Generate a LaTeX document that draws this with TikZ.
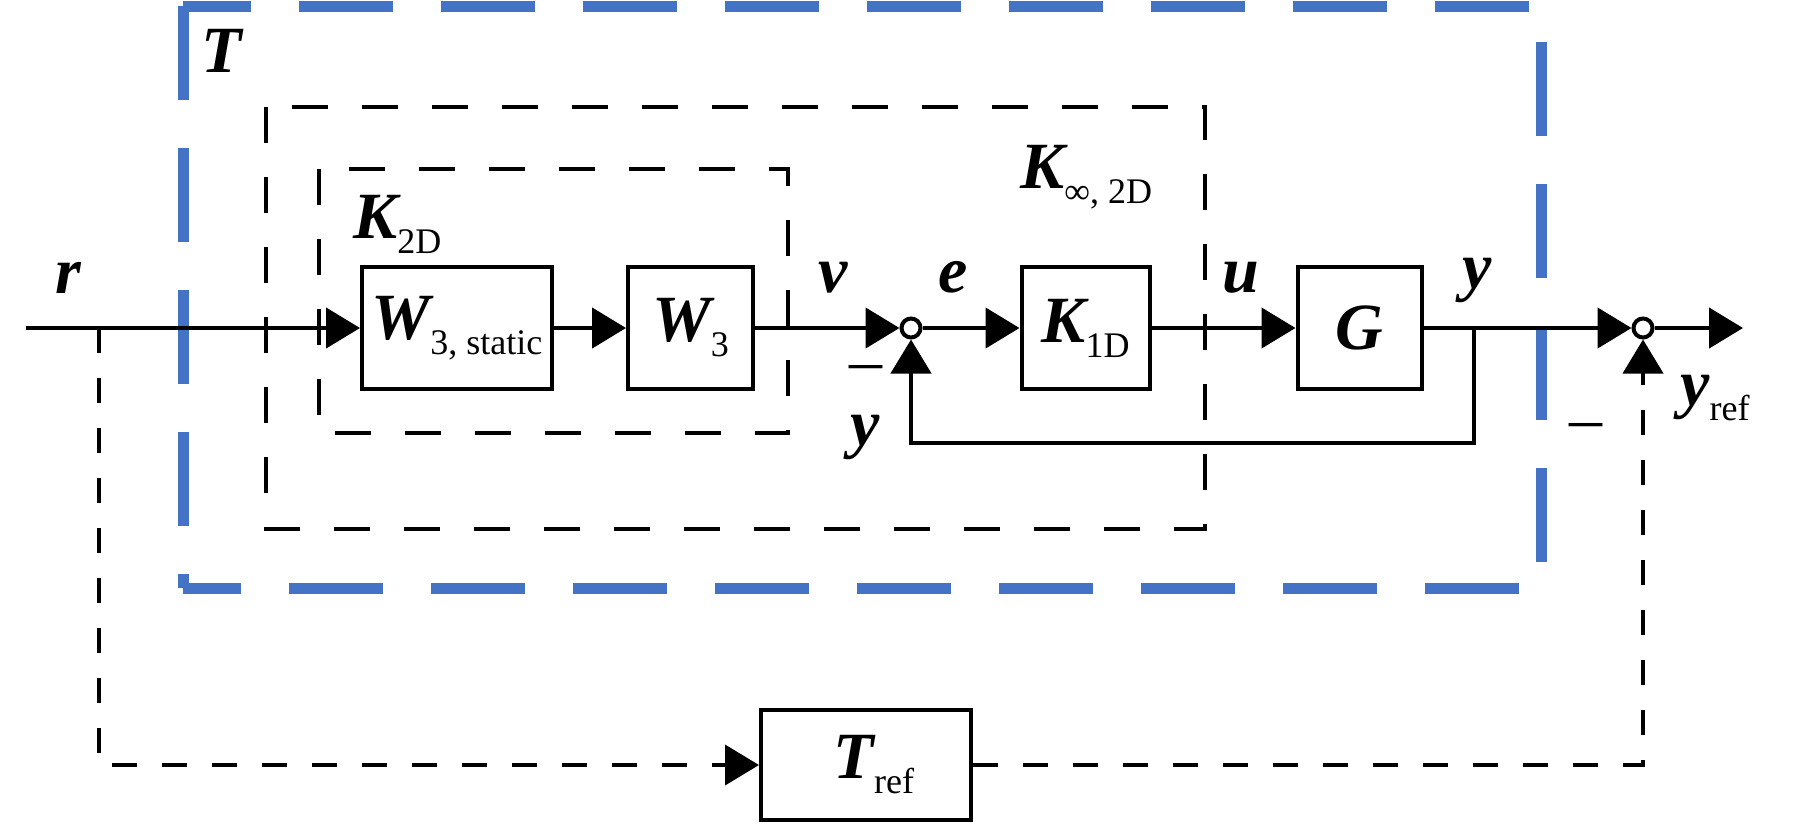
\documentclass[tikz,border=0pt]{standalone}
\usepackage{fontspec}
\setmainfont{Liberation Serif}
\usetikzlibrary{arrows.meta}
\definecolor{tblue}{RGB}{68,114,196}
\newcommand{\bi}[1]{{\bfseries\itshape #1}}
\newcommand{\sbs}[1]{\raisebox{-7.5pt}{\fontsize{18pt}{18pt}\selectfont\mdseries\upshape #1}}
\begin{document}
\begin{tikzpicture}[x=0.5pt,y=-0.5pt,
  every node/.style={font=\fontsize{33pt}{36pt}\selectfont},
  box/.style={draw, line width=2pt, minimum height=61pt, inner sep=0pt},
  sumj/.style={draw, circle, line width=2pt, minimum size=9.5pt, inner sep=0pt, fill=white},
  lbl/.style={anchor=base west, inner sep=0pt},
  sig/.style={line width=2.25pt, -{Triangle[length=17pt,width=20pt]}},
  dsig/.style={line width=2pt, dash pattern=on 12.5pt off 12.5pt, -{Triangle[length=17pt,width=20pt]}},
  kbox/.style={line width=2pt, dash pattern=on 18pt off 17pt},
  tbox/.style={line width=5.5pt, tblue, dash pattern=on 47pt off 24pt}]
\useasboundingbox (0,0) rectangle (1819,826);
% blue T box
\draw[tbox, dash phase=13pt] (183,6) -- (1541,6) -- (1541,588) -- (183,588);
\draw[tbox] (183,6) -- (183,588);
% black dashed boxes
\draw[kbox] (266,107) rectangle (1205,529);
\draw[kbox] (319,169) rectangle (788,433);
% blocks
\node[box, minimum width=95pt] (W3s) at (457,328) {\bi{W}\sbs{3, static}};
\node[box, minimum width=62.5pt] (W3) at (690.5,328) {\bi{W}\sbs{3}};
\node[sumj] (s1) at (911,328) {};
\node[box, minimum width=64pt] (K1D) at (1085.5,328) {\bi{K}\sbs{1D}};
\node[box, minimum width=62pt] (G) at (1359.5,328) {\bi{G}};
\node[sumj] (s2) at (1643,328) {};
\node[box, minimum width=105pt, minimum height=55pt] (Tref) at (866,765) {\hspace*{8pt}\bi{T}\sbs{ref}};
\coordinate (rin) at (26,328);
\coordinate (br) at (99,328);
\coordinate (tap) at (1474,328);
\coordinate (out) at (1743,328);
\coordinate (fb1) at (1474,443);
\coordinate (fb2) at (911,443);
\coordinate (d1) at (99,765);
\coordinate (d2) at (1643,765);
% connectors
\draw[sig] (rin) -- (W3s);
\draw[sig] (W3s) -- (W3);
\draw[sig] (W3) -- (s1);
\draw[sig] (s1) -- (K1D);
\draw[sig] (K1D) -- (G);
\draw[sig] (G) -- (s2);
\draw[sig] (s2) -- (out);
\draw[sig] (tap) -- (fb1) -- (fb2) -- (s1);
\draw[dsig] (br) -- (d1) -- (Tref);
\draw[dsig] (Tref) -- (d2) -- (s2);
% labels
\node[lbl] (lT) at (201,72) {\bi{T}};
\node[lbl] (lK2) at (353,238) {\bi{K}\sbs{2D}};
\node[lbl] (lKi) at (1020,188) {\bi{K}\sbs{∞, 2D}};
\node[lbl] (lr) at (55,293) {\bi{r}};
\node[lbl] (lv) at (818,292) {\bi{v}};
\node[lbl] (le) at (938,292) {\bi{e}};
\node[lbl] (lu) at (1222,292) {\bi{u}};
\node[lbl] (ly) at (1462,288) {\bi{y}};
\node[lbl] (lyf) at (850,445) {\bi{y}};
\node[lbl] (lyr) at (1680,405) {\bi{y}\sbs{ref}};
\node[lbl] (m1) at (849,382) {–};
\node[lbl] (m2) at (1569,440) {–};
\end{tikzpicture}
\end{document}
